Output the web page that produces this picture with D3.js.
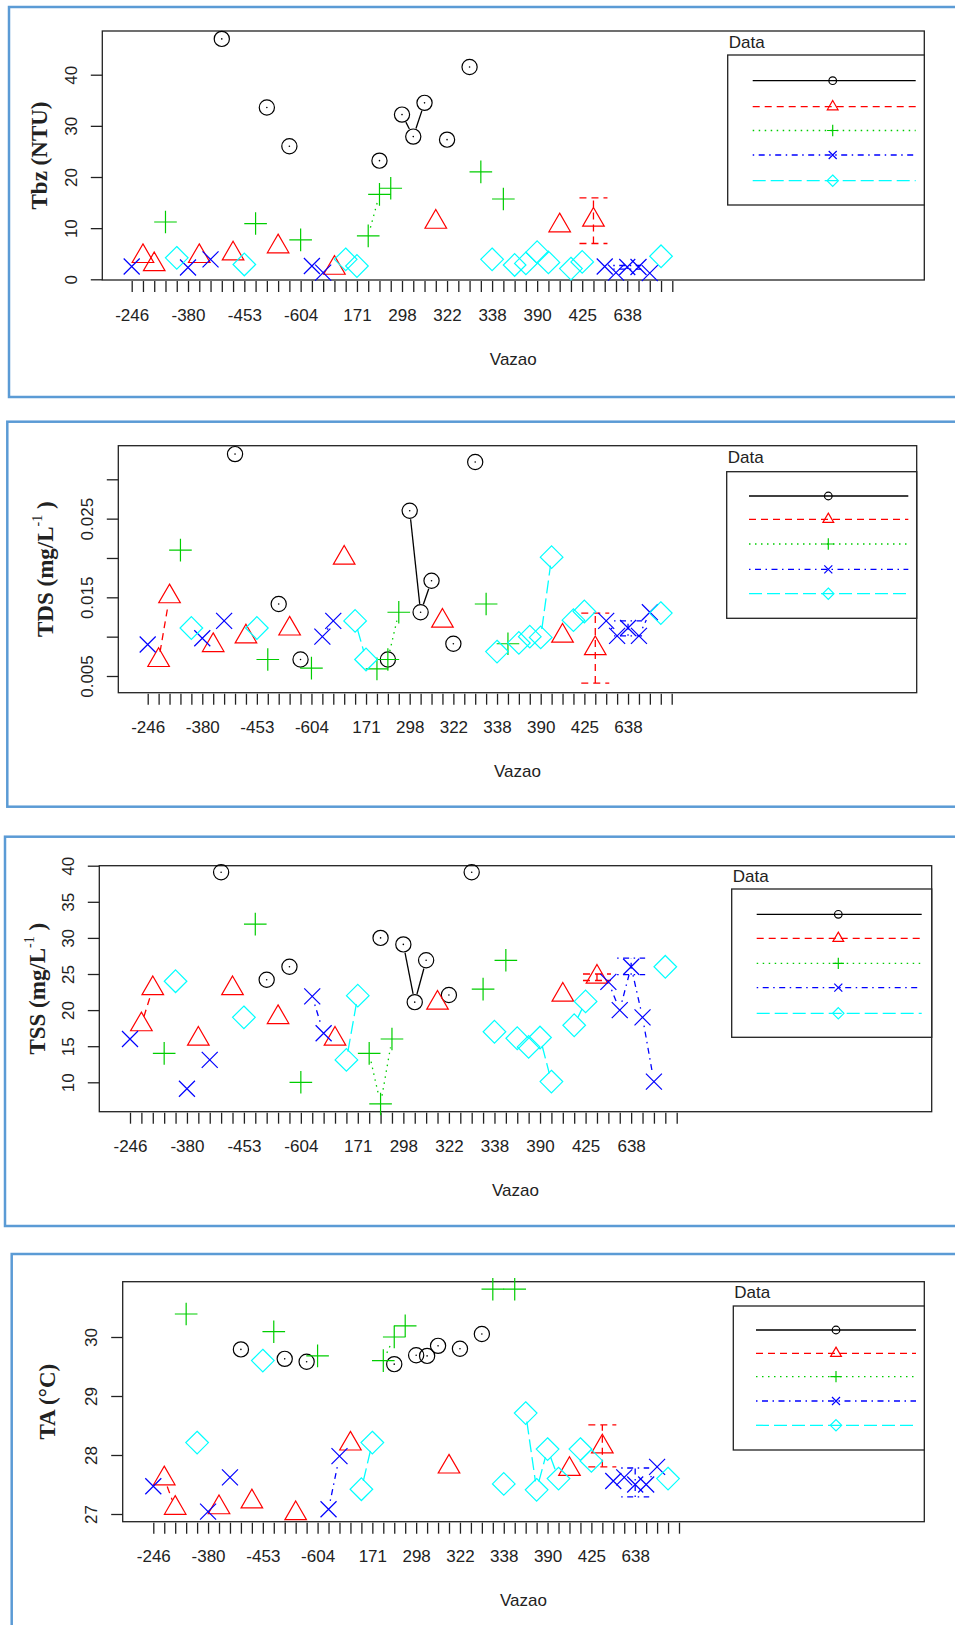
<!DOCTYPE html>
<html><head><meta charset="utf-8">
<script src="https://cdn.jsdelivr.net/npm/d3@7"></script>
<style>body{margin:0;background:#fff} svg{display:block}</style>
</head><body>
<script>
// ---------- shared categorical x axis (Vazao levels; hidden labels unknown) ----------
const xTickLabels = ["-246","","","","","-380","","","","","-453","","","","","-604","","","","",
  "171","","","","298","","","","322","","","","338","","","","390","","","","425","","","","638","","","",""];

const seriesColors = ["#000000","#FF0000","#00CD00","#0000FF","#00FFFF"];
const seriesShapes = ["circle","triangle","plus","cross","diamond"];
const seriesDash   = [null,"7,5","1.5,4.5","1.5,4.5,6,4.5","13,5"];

// ---------- Panel 1: Tbz (NTU) ----------
const tbzBlack = [[8,47.0],[12,33.6],[14,26.0],[22,23.2],[24,32.2],[25,27.9],[26,34.5],[28,27.3],[30,41.5]];
const tbzRed   = [[1,4.5],[2,2.9],[6,4.5],[9,5.0],[13,6.4],[18,2.2],[27,11.2],[38,10.5],[41,11.6]];
const tbzGreen = [[3,11.2],[11,10.9],[15,7.7],[21,8.5],[22,16.6],[23,17.8],[31,21.0],[33,15.7]];
const tbzBlue  = [[0,2.5],[5,2.3],[7,3.9],[16,2.6],[17,1.3],[42,2.5],[43,1.3],[44,2.4],[45,2.4],[46,1.2]];
const tbzCyan  = [[4,4.2],[10,2.9],[19,3.9],[20,2.6],[32,3.9],[34,2.8],[35,3.1],[36,5.3],[37,3.3],[39,2.1],[40,3.4],[47,4.5]];
const tbzErrRed  = [[41,7.0,15.9]];
const tbzErrBlue = [[44,2.0,2.7]];
const tbzTicks = [0,10,20,30,40];
const tbzTickLabels = ["0","10","20","30","40"];

// ---------- Panel 2: TDS ----------
const tdsBlack = [[8,0.0332],[12,0.01415],[14,0.0071],[22,0.0071],[24,0.0260],[25,0.0131],[26,0.0171],[28,0.0091],[30,0.0322]];
const tdsRed   = [[1,0.0070],[2,0.0151],[6,0.0089],[9,0.0100],[13,0.0110],[18,0.0200],[27,0.0120],[38,0.0101],[41,0.0085]];
const tdsGreen = [[3,0.0210],[11,0.0071],[15,0.0060],[21,0.0059],[22,0.0071],[23,0.0131],[31,0.01415],[33,0.0091]];
const tdsBlue  = [[0,0.0090],[5,0.0098],[7,0.0120],[16,0.0100],[17,0.0120],[42,0.0120],[43,0.0101],[44,0.0111],[45,0.0101],[46,0.0131]];
const tdsCyan  = [[4,0.0111],[10,0.0111],[19,0.0120],[20,0.0071],[32,0.0081],[34,0.0092],[35,0.0100],[36,0.0099],[37,0.0201],[39,0.0121],[40,0.0132],[47,0.0130]];
const tdsErrRed  = [[41,0.0041,0.0130]];
const tdsErrBlue = [[44,0.0101,0.0120]];
const tdsTicks = [0.005,0.010,0.015,0.020,0.025,0.030];
const tdsTickLabels = ["0.005","","0.015","","0.025",""];

// ---------- Panel 3: TSS ----------
const tssBlack = [[8,39.1],[12,24.2],[14,26.0],[22,30.0],[24,29.1],[25,21.1],[26,26.9],[28,22.1],[30,39.1]];
const tssRed   = [[1,18.0],[2,23.0],[6,16.0],[9,23.0],[13,19.0],[18,16.0],[27,21.0],[38,22.1],[41,24.6]];
const tssGreen = [[3,14.0],[11,31.9],[15,10.0],[21,14.0],[22,7.0],[23,16.0],[31,22.9],[33,26.9]];
const tssBlue  = [[0,16.0],[5,9.1],[7,13.1],[16,21.9],[17,16.8],[42,23.9],[43,20.0],[44,26.0],[45,19.0],[46,10.1]];
const tssCyan  = [[4,24.0],[10,19.0],[19,13.1],[20,22.0],[32,17.0],[34,16.1],[35,14.9],[36,16.2],[37,10.1],[39,17.9],[40,21.2],[47,26.0]];
const tssErrRed  = [[41,24.1,25.0]];
const tssErrBlue = [[44,24.9,27.2]];
const tssTicks = [10,15,20,25,30,35,40];
const tssTickLabels = ["10","15","20","25","30","35","40"];

// ---------- Panel 4: TA ----------
const taBlack = [[8,29.79],[12,29.63],[14,29.58],[22,29.54],[24,29.69],[25,29.68],[26,29.85],[28,29.80],[30,30.05]];
const taRed   = [[1,27.60],[2,27.10],[6,27.11],[9,27.21],[13,27.01],[18,28.19],[27,27.80],[38,27.76],[41,28.14]];
const taGreen = [[3,30.39],[11,30.09],[15,29.68],[21,29.60],[22,30.00],[23,30.19],[31,30.81],[33,30.81]];
const taBlue  = [[0,27.47],[5,27.04],[7,27.62],[16,27.08],[17,27.98],[42,27.56],[43,27.62],[44,27.50],[45,27.50],[46,27.80]];
const taCyan  = [[4,28.21],[10,29.60],[19,27.42],[20,28.21],[32,27.51],[34,28.71],[35,27.41],[36,28.10],[37,27.60],[39,28.10],[40,27.90],[47,27.60]];
const taErrRed  = [[41,27.80,28.51]];
const taErrBlue = [[44,27.29,27.78]];
const taTicks = [27,28,29,30];
const taTickLabels = ["27","28","29","30"];

// ---------- layout ----------
const panels = [
  {title:["Tbz (NTU)"], sup:null, series:[tbzBlack,tbzRed,tbzGreen,tbzBlue,tbzCyan], err:{1:tbzErrRed,3:tbzErrBlue},
   ticks:tbzTicks, tickLabels:tbzTickLabels, ydom:[0,40], yrng:[279.3,74.7],
   frame:{x:9,y:7,b:397}, plot:{l:102.3,t:31,r:924.3,b:280}, xr:[131.7,672.3], ytx:39,
   leg:{l:727.7,tl:55,b:205,rows:[80.7,106.7,130.5,155,180.7],lx:[752.7,915.7],sx:832.7,ty:42}},
  {title:["TDS (mg/L"," )"], sup:"-1", series:[tdsBlack,tdsRed,tdsGreen,tdsBlue,tdsCyan], err:{1:tdsErrRed,3:tdsErrBlue},
   ticks:tdsTicks, tickLabels:tdsTickLabels, ydom:[0.005,0.030], yrng:[676,479.3],
   frame:{x:7.3,y:421.7,b:806.7}, plot:{l:118.3,t:445.7,r:916.7,b:692.7}, xr:[147.7,671.7], ytx:45,
   leg:{l:726.7,tl:471.7,b:618.3,rows:[496,519.3,544,569.3,593.7],lx:[749,908.3],sx:828.3,ty:457.3}},
  {title:["TSS (mg/L"," )"], sup:"-1", series:[tssBlack,tssRed,tssGreen,tssBlue,tssCyan], err:{1:tssErrRed,3:tssErrBlue},
   ticks:tssTicks, tickLabels:tssTickLabels, ydom:[10,40], yrng:[1082.3,865.7],
   frame:{x:5,y:836.7,b:1226}, plot:{l:99.3,t:865.7,r:931.7,b:1111.7}, xr:[130,676.7], ytx:37,
   leg:{l:731.7,tl:889,b:1037.3,rows:[914.3,938.3,963.3,987.7,1013.3],lx:[756.7,921.7],sx:838.3,ty:876.7}},
  {title:["TA (°C)"], sup:null, series:[taBlack,taRed,taGreen,taBlue,taCyan], err:{1:taErrRed,3:taErrBlue},
   ticks:taTicks, tickLabels:taTickLabels, ydom:[27,30], yrng:[1514,1337],
   frame:{x:11.7,y:1254,b:1650}, plot:{l:122.7,t:1281.7,r:924.3,b:1521.7}, xr:[153.3,679], ytx:46.7,
   leg:{l:733.3,tl:1306,b:1450,rows:[1330,1353.3,1376.7,1401,1425.3],lx:[756,916],sx:836,ty:1292.7}}
];

const W = 955, H = 1625;
const svg = d3.select("body").append("svg").attr("width",W).attr("height",H);
const SANS = "'Liberation Sans', Arial, sans-serif";
const SERIF = "'Liberation Serif', 'Times New Roman', serif";
const AX = "#222";

function symbolPath(shape, R){
  const a = 1.4142*R;
  switch(shape){
    case "triangle": return `M0,${-1.555*R}L${1.347*R},${0.778*R}L${-1.347*R},${0.778*R}Z`;
    case "plus": return `M${-a},0H${a}M0,${-a}V${a}`;
    case "cross": return `M${-R},${-R}L${R},${R}M${-R},${R}L${R},${-R}`;
    case "diamond": return `M0,${-a}L${a},0L0,${a}L${-a},0Z`;
  }
  return null;
}
function drawSymbol(g, shape, x, y, R, color){
  if(shape==="circle"){
    g.append("circle").attr("cx",x).attr("cy",y).attr("r",R*0.95)
      .attr("fill","none").attr("stroke",color).attr("stroke-width",1.2);
  } else {
    g.append("path").attr("d",symbolPath(shape,R)).attr("transform",`translate(${x},${y})`)
      .attr("fill","none").attr("stroke",color).attr("stroke-width",1.2);
  }
}

panels.forEach(p=>{
  const g = svg.append("g");
  // frame
  g.append("rect").attr("x",p.frame.x).attr("y",p.frame.y)
    .attr("width",W+20-p.frame.x).attr("height",p.frame.b-p.frame.y)
    .attr("fill","none").attr("stroke","#5B9BD5").attr("stroke-width",2.5);

  const x = d3.scalePoint().domain(d3.range(xTickLabels.length)).range(p.xr);
  const y = d3.scaleLinear().domain(p.ydom).range(p.yrng);
  const P = p.plot;

  // plot box
  g.append("rect").attr("x",P.l).attr("y",P.t).attr("width",P.r-P.l).attr("height",P.b-P.t)
    .attr("fill","none").attr("stroke",AX).attr("stroke-width",1.3);

  // x axis
  const xa = g.append("g").attr("transform",`translate(0,${P.b+1})`)
    .call(d3.axisBottom(x).tickSize(11).tickSizeOuter(0).tickFormat(i=>xTickLabels[i]));
  xa.select(".domain").remove();
  xa.selectAll(".tick line").attr("stroke",AX).attr("stroke-width",1.3);
  xa.selectAll(".tick text").attr("font-family",SANS).attr("font-size",17).attr("fill",AX)
    .attr("y",null).attr("dy",null).attr("transform","translate(0,34)").attr("dominant-baseline","central");

  // y axis
  const ya = g.append("g").attr("transform",`translate(${P.l},0)`)
    .call(d3.axisLeft(y).tickValues(p.ticks).tickSize(11.5).tickSizeOuter(0)
      .tickFormat((d,i)=>p.tickLabels[i]));
  ya.select(".domain").remove();
  ya.selectAll(".tick line").attr("stroke",AX).attr("stroke-width",1.3);
  ya.selectAll(".tick text").attr("font-family",SANS).attr("font-size",17).attr("fill",AX)
    .attr("x",null).attr("dy",null).attr("text-anchor","middle").attr("dominant-baseline","central")
    .attr("transform","translate(-31,0) rotate(-90)");

  // axis titles
  g.append("text").attr("x",(P.l+P.r)/2).attr("y",P.b+79).attr("text-anchor","middle")
    .attr("dominant-baseline","central").attr("font-family",SANS).attr("font-size",17).attr("fill",AX)
    .text("Vazao");
  const yt = g.append("text").attr("transform",`translate(${p.ytx},${(P.t+P.b)/2}) rotate(-90)`)
    .attr("text-anchor","middle").attr("dominant-baseline","central")
    .attr("font-family",SERIF).attr("font-size",23).attr("font-weight","bold").attr("fill",AX);
  yt.append("tspan").text(p.title[0]);
  if(p.sup){
    yt.append("tspan").attr("dy",-8).attr("font-size",14).attr("font-weight","normal").text(p.sup);
    yt.append("tspan").attr("dy",8).text(p.title[1]);
  }

  // data series: error bars, broken lines (type "b"), points
  const GAP = 8.5;
  p.series.forEach((data,si)=>{
    const col = seriesColors[si], dash = seriesDash[si];
    const sg = g.append("g");
    const errs = p.err[si] || [];
    errs.forEach(([i,lo,hi])=>{
      const cx = x(i);
      const style = s=>s.attr("stroke",col).attr("stroke-width",1.3).attr("stroke-dasharray",dash);
      style(sg.append("line").attr("x1",cx).attr("x2",cx).attr("y1",y(lo)).attr("y2",y(hi)));
      style(sg.append("line").attr("x1",cx-14).attr("x2",cx+14).attr("y1",y(lo)).attr("y2",y(lo)));
      style(sg.append("line").attr("x1",cx-14).attr("x2",cx+14).attr("y1",y(hi)).attr("y2",y(hi)));
    });
    const pts = data.slice().sort((a,b)=>a[0]-b[0]);
    for(let k=1;k<pts.length;k++){
      if(pts[k][0]-pts[k-1][0]!==1) continue;
      const x0=x(pts[k-1][0]), y0=y(pts[k-1][1]), x1=x(pts[k][0]), y1=y(pts[k][1]);
      const L = Math.hypot(x1-x0,y1-y0);
      if(L <= 2*GAP) continue;
      const f = GAP/L;
      sg.append("line")
        .attr("x1",x0+(x1-x0)*f).attr("y1",y0+(y1-y0)*f)
        .attr("x2",x1-(x1-x0)*f).attr("y2",y1-(y1-y0)*f)
        .attr("stroke",col).attr("stroke-width",1.3).attr("stroke-dasharray",dash);
    }
    pts.forEach(([i,v])=>{
      drawSymbol(sg, seriesShapes[si], x(i), y(v), 8, col);
      if(si===0) sg.append("circle").attr("cx",x(i)).attr("cy",y(v)).attr("r",0.8).attr("fill",col);
    });
  });

  // legend
  const L = p.leg;
  g.append("rect").attr("x",L.l).attr("y",L.tl).attr("width",P.r-L.l).attr("height",L.b-L.tl)
    .attr("fill","#fff").attr("stroke",AX).attr("stroke-width",1.3);
  g.append("text").attr("x",L.l+1).attr("y",L.ty).attr("dominant-baseline","central")
    .attr("font-family",SANS).attr("font-size",17).attr("fill",AX).text("Data");
  L.rows.forEach((ry,si)=>{
    g.append("line").attr("x1",L.lx[0]).attr("x2",L.lx[1]).attr("y1",ry).attr("y2",ry)
      .attr("stroke",seriesColors[si]).attr("stroke-width",1.3).attr("stroke-dasharray",seriesDash[si]);
    drawSymbol(g, seriesShapes[si], L.sx, ry, 4, seriesColors[si]);
  });
});
</script>
</body></html>
